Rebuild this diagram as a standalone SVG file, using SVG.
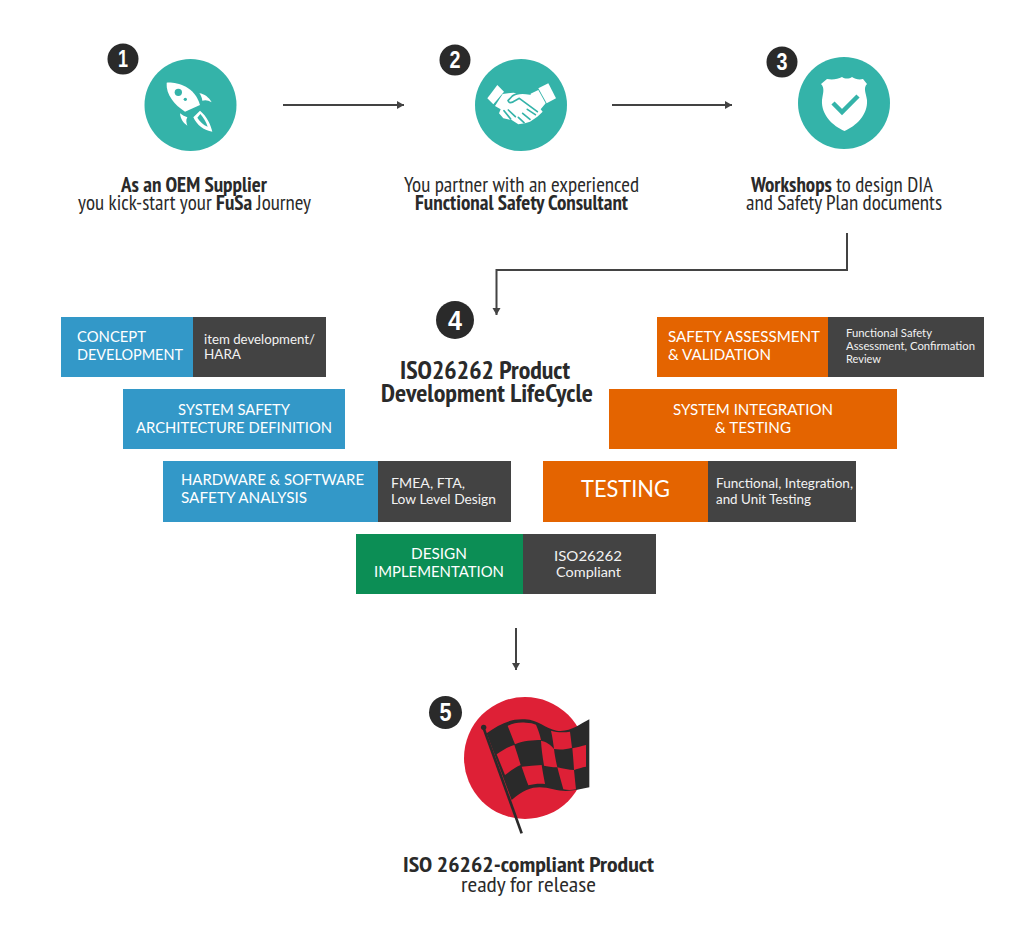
<svg xmlns="http://www.w3.org/2000/svg" width="1024" height="948" viewBox="0 0 1024 948">
<defs>
<marker id="ah" markerWidth="10" markerHeight="10" refX="7" refY="4" orient="auto" markerUnits="userSpaceOnUse"><path d="M0 0L7 4L0 8Z" fill="#434343"/></marker>
</defs>
<style>
.n{font-family:"Liberation Sans Narrow","PT Sans Narrow","Liberation Sans",sans-serif;fill:#2a2a2a;font-size:21px}
.b{font-weight:700}
.f{font-family:Lato,"Liberation Sans",sans-serif;fill:#fff;font-size:15.5px}
.s{font-family:Lato,"Liberation Sans",sans-serif;fill:#f2f2f2;font-size:13.5px}
.x{font-size:11px}
.d{font-family:"Liberation Sans Narrow","Liberation Sans",sans-serif;font-weight:700;fill:#fff;text-anchor:middle}
.bd{fill:#2a2a2a}
.t{fill:#34b3a9}
.w{fill:#fff}
.blue{fill:#3398c8}.dark{fill:#434343}.or{fill:#e46400}.gr{fill:#0c8e55}
.c{fill:none;stroke:#434343;stroke-width:2}
</style>
<rect width="1024" height="948" fill="#fff"/>
<g id="connectors">
<path class="c" marker-end="url(#ah)" d="M283 105H404"/>
<path class="c" marker-end="url(#ah)" d="M612 105H732"/>
<path class="c" marker-end="url(#ah)" d="M847 233V270H496.500V315"/>
<path class="c" marker-end="url(#ah)" d="M516 628V670"/>
</g>
<g id="node1">
<circle class="t" cx="190.500" cy="105" r="46"/>
<g transform="translate(155 70) scale(.33333)">
<path class="w" d="M35 38C60 36 118 45 135 105L90 125C60 105 32 75 35 38Z"/>
<circle class="t" cx="70" cy="67" r="11"/><circle class="t" cx="91" cy="88" r="5"/>
<path class="w" d="M133 70C148 72 162 82 170 97C160 90 150 89 142 92C141 84 138 76 133 70Z"/>
<path class="w" d="M75 130C82 136 90 140 97 142C92 150 94 158 97 167C86 160 76 147 75 130Z"/>
<path class="w" fill-rule="evenodd" d="M115 142L135 122C155 138 168 165 172 185C148 182 125 165 115 142ZM127 143C134 155 145 165 158 170C153 155 145 142 136 132Z"/>
</g>
<circle class="bd" cx="123" cy="59" r="15.500"/>
<text class="d" x="123" y="67" font-size="24" textLength="10" lengthAdjust="spacingAndGlyphs">1</text>
<text class="n b" x="194" y="192" text-anchor="middle" textLength="146" lengthAdjust="spacingAndGlyphs">As an OEM Supplier</text>
<text class="n" x="194.500" y="210" text-anchor="middle" textLength="233" lengthAdjust="spacingAndGlyphs">you kick-start your <tspan class="b">FuSa</tspan> Journey</text>
</g>
<g id="node2">
<circle class="t" cx="521" cy="105" r="46"/>
<g transform="translate(480 70) scale(.33333)">
<path class="w" d="M22 85L52 45L72 65L40 103Z"/>
<path class="w" d="M175 55L205 40L228 85L200 100Z"/>
<path class="w" d="M68 72L100 68L125 72L150 72L175 60L197 100L182 118L188 125L172 140L150 155L135 160L115 163L95 150L70 145L57 130L62 118L45 108Z"/>
<path fill="none" stroke="#34b3a9" stroke-width="5" stroke-linecap="round" stroke-linejoin="round" d="M150 72C130 68 108 70 97 78L84 92C86 100 95 100 105 92L118 85L172 125M142 118L166 134M128 130L150 148M115 142L132 158M72 122L92 147M85 120L106 140"/>
</g>
<circle class="bd" cx="455" cy="60" r="15.500"/>
<text class="d" x="455" y="68" font-size="24" textLength="11" lengthAdjust="spacingAndGlyphs">2</text>
<text class="n" x="521.500" y="192" text-anchor="middle" textLength="235" lengthAdjust="spacingAndGlyphs">You partner with an experienced</text>
<text class="n b" x="521.500" y="210" text-anchor="middle" textLength="213" lengthAdjust="spacingAndGlyphs">Functional Safety Consultant</text>
</g>
<g id="node3">
<circle class="t" cx="844" cy="103" r="46"/>
<path class="w" d="M827 79C833 80 838 79 842 77C845 79 849 79 852 77C855 79 859 80 863 79L867 84C863 88 866 93 867 100C868 115 856 126 844.500 131C833 126 821 115 822 100C823 93 825 88 821 84Z"/>
<path fill="none" stroke="#34b3a9" stroke-width="4.500" d="M833 103L842 112L858 96"/>
<circle class="bd" cx="782" cy="62" r="15.500"/>
<text class="d" x="782" y="70" font-size="24" textLength="11" lengthAdjust="spacingAndGlyphs">3</text>
<text class="n" x="842" y="192" text-anchor="middle" textLength="182" lengthAdjust="spacingAndGlyphs"><tspan class="b">Workshops</tspan> to design DIA</text>
<text class="n" x="844" y="210" text-anchor="middle" textLength="196" lengthAdjust="spacingAndGlyphs">and Safety Plan documents</text>
</g>
<g id="node4">
<circle class="bd" cx="455" cy="320" r="19"/>
<text class="d" x="455" y="330" font-size="28" textLength="14" lengthAdjust="spacingAndGlyphs">4</text>
<text class="n b" x="485" y="379" text-anchor="middle" textLength="170" lengthAdjust="spacingAndGlyphs" style="font-size:26px">ISO26262 Product</text>
<text class="n b" x="487" y="402" text-anchor="middle" textLength="212" lengthAdjust="spacingAndGlyphs" style="font-size:26px">Development LifeCycle</text>
</g>
<g id="concept">
<rect class="blue" x="61" y="317" width="132" height="60"/><rect class="dark" x="193" y="317" width="133" height="60"/>
<text class="f" x="77" y="342" textLength="69" lengthAdjust="spacingAndGlyphs">CONCEPT</text>
<text class="f" x="77" y="360" textLength="106" lengthAdjust="spacingAndGlyphs">DEVELOPMENT</text>
<text class="s" x="204" y="344" textLength="111" lengthAdjust="spacingAndGlyphs">item development/</text>
<text class="s" x="204" y="359" textLength="37" lengthAdjust="spacingAndGlyphs">HARA</text>
</g>
<g id="system-safety">
<rect class="blue" x="123" y="389" width="222" height="60"/>
<text class="f" x="178" y="415" textLength="112" lengthAdjust="spacingAndGlyphs">SYSTEM SAFETY</text>
<text class="f" x="136" y="433" textLength="196" lengthAdjust="spacingAndGlyphs">ARCHITECTURE DEFINITION</text>
</g>
<g id="hw-sw">
<rect class="blue" x="163" y="461" width="215" height="61"/><rect class="dark" x="378" y="461" width="133" height="61"/>
<text class="f" x="181" y="485" textLength="183" lengthAdjust="spacingAndGlyphs">HARDWARE &amp; SOFTWARE</text>
<text class="f" x="181" y="503" textLength="126" lengthAdjust="spacingAndGlyphs">SAFETY ANALYSIS</text>
<text class="s" x="391" y="488" textLength="74" lengthAdjust="spacingAndGlyphs">FMEA, FTA,</text>
<text class="s" x="391" y="504" textLength="105" lengthAdjust="spacingAndGlyphs">Low Level Design</text>
</g>
<g id="design">
<rect class="gr" x="356" y="534" width="167" height="60"/><rect class="dark" x="523" y="534" width="133" height="60"/>
<text class="f" x="411" y="559" textLength="56" lengthAdjust="spacingAndGlyphs">DESIGN</text>
<text class="f" x="374" y="577" textLength="130" lengthAdjust="spacingAndGlyphs">IMPLEMENTATION</text>
<text class="s" x="554" y="561" textLength="68" lengthAdjust="spacingAndGlyphs">ISO26262</text>
<text class="s" x="556" y="577" textLength="65" lengthAdjust="spacingAndGlyphs">Compliant</text>
</g>
<g id="safety-assessment">
<rect class="or" x="657" y="317" width="171" height="60"/><rect class="dark" x="828" y="317" width="156" height="60"/>
<text class="f" x="668" y="342" textLength="152" lengthAdjust="spacingAndGlyphs">SAFETY ASSESSMENT</text>
<text class="f" x="668" y="360" textLength="103" lengthAdjust="spacingAndGlyphs">&amp; VALIDATION</text>
<text class="s x" x="846" y="337" textLength="86" lengthAdjust="spacingAndGlyphs">Functional Safety</text>
<text class="s x" x="846" y="350" textLength="129" lengthAdjust="spacingAndGlyphs">Assessment, Confirmation</text>
<text class="s x" x="846" y="363" textLength="35" lengthAdjust="spacingAndGlyphs">Review</text>
</g>
<g id="system-integration">
<rect class="or" x="609" y="389" width="288" height="60"/>
<text class="f" x="673" y="415" textLength="160" lengthAdjust="spacingAndGlyphs">SYSTEM INTEGRATION</text>
<text class="f" x="715" y="433" textLength="76" lengthAdjust="spacingAndGlyphs">&amp; TESTING</text>
</g>
<g id="testing">
<rect class="or" x="543" y="461" width="165" height="61"/><rect class="dark" x="708" y="461" width="148" height="61"/>
<text class="f" x="581" y="497" textLength="89" lengthAdjust="spacingAndGlyphs" style="font-size:23px">TESTING</text>
<text class="s" x="716" y="488" textLength="137" lengthAdjust="spacingAndGlyphs">Functional, Integration,</text>
<text class="s" x="716" y="504" textLength="95" lengthAdjust="spacingAndGlyphs">and Unit Testing</text>
</g>
<g id="node5">
<circle cx="525" cy="758" r="61" fill="#de2036"/>
<g transform="translate(470 710) scale(.33333)">
<path d="M40 52L155 370" fill="none" stroke="#2a2a2a" stroke-width="8"/>
<circle cx="41" cy="52" r="8" fill="#2a2a2a"/>
<path fill="#2a2a2a" d="M50 70C85 45 120 25 165 28C205 30 225 55 260 62C300 68 330 42 358 28V232C320 240 290 248 250 238C210 228 175 225 125 270Z"/>
<g fill="#de2036">
<path d="M113 48C130 38 150 36 168 38C180 38 190 40 198 44C205 60 210 75 213 90C190 90 160 92 135 103C128 85 120 65 113 48Z"/>
<path d="M243 62C262 68 282 68 300 65C302 80 304 98 306 113C290 118 270 120 252 117C250 100 247 80 243 62Z"/>
<path d="M80 133C98 120 115 110 133 105C140 125 146 145 152 165C135 172 120 183 105 195C97 175 88 153 80 133Z"/>
<path d="M213 92C228 95 240 102 252 117C254 135 258 155 262 172C245 172 232 168 222 167C218 140 214 115 213 92Z"/>
<path d="M307 115C322 112 335 108 348 105V170C336 172 324 176 312 180C311 160 309 135 307 115Z"/>
<path d="M155 170C175 168 195 166 215 165C218 185 222 205 225 222C208 220 190 222 175 226C168 208 161 188 155 170Z"/>
<path d="M262 172C280 176 296 180 312 180C314 200 316 220 318 238C305 241 292 241 280 238C274 218 268 195 262 172Z"/>
</g>
</g>
<circle class="bd" cx="445.500" cy="712.500" r="16.500"/>
<text class="d" x="445.500" y="721" font-size="25" textLength="12" lengthAdjust="spacingAndGlyphs">5</text>
<text class="n b" x="528.500" y="872" text-anchor="middle" textLength="251" lengthAdjust="spacingAndGlyphs" style="font-size:22px">ISO 26262-compliant Product</text>
<text class="n" x="528.500" y="892" text-anchor="middle" textLength="135" lengthAdjust="spacingAndGlyphs">ready for release</text>
</g>
</svg>
